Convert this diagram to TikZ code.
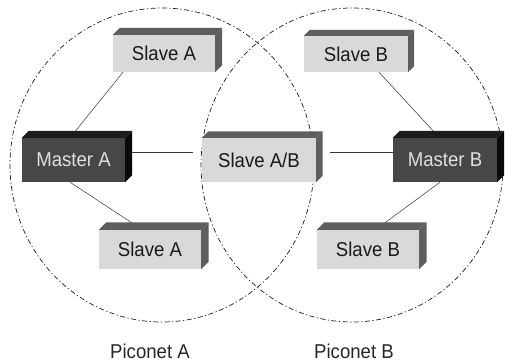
\documentclass[tikz,border=0pt]{standalone}
\usepackage{fontspec}
\newfontfamily\labfont{Liberation Sans}[FakeStretch=0.93]
\usetikzlibrary{backgrounds}
\definecolor{slavefront}{HTML}{D9D9D9}
\definecolor{slaveside}{HTML}{5E5E5E}
\definecolor{masterfront}{HTML}{474747}
\definecolor{mastertop}{HTML}{1C1C1C}
\definecolor{masterside}{HTML}{0A0A0A}
\definecolor{linkcol}{HTML}{333333}
\definecolor{ringcol}{HTML}{1A1A1A}
\tikzset{
  slavebox/.style={fill=slavefront, text=black!90, inner sep=0pt, font=\labfont\fontsize{20}{23}\selectfont},
  masterbox/.style={fill=masterfront, text=white!88!black, inner sep=0pt, font=\labfont\fontsize{20}{23}\selectfont},
  link/.style={draw=linkcol, line width=0.5pt},
  ring/.style={draw=ringcol, line width=0.7pt, dash pattern=on 5pt off 2.5pt on 1.2pt off 2.5pt},
  caption/.style={font=\labfont\fontsize{20}{23}\selectfont, text=black!85, anchor=base, inner sep=0pt}
}
\newcommand{\boxfaces}[4]{% name, top colour, side colour, depth
  \fill[#2] (#1.north west) -- ++(#4,-#4) -- ([shift={(#4,-#4)}]#1.north east) -- (#1.north east) -- cycle;
  \fill[#3] (#1.north east) -- ++(#4,-#4) -- ([shift={(#4,-#4)}]#1.south east) -- (#1.south east) -- cycle;
}
\begin{document}
\begin{tikzpicture}[x=1pt,y=-1pt]
\useasboundingbox (0,0) rectangle (505,363);
% boxes (front faces)
\node[slavebox, minimum width=102pt, minimum height=37pt] (sa1) at (164,53.5) {Slave A};
\node[slavebox, minimum width=104pt, minimum height=36pt] (sb1) at (356,54) {Slave B};
\node[masterbox, minimum width=103pt, minimum height=44pt] (ma) at (73.5,160) {Master A};
\node[slavebox, minimum width=114pt, minimum height=44pt] (sab) at (259,160) {Slave A/B};
\node[masterbox, minimum width=104pt, minimum height=44pt] (mb) at (445,160) {Master B};
\node[slavebox, minimum width=102pt, minimum height=39pt] (sa2) at (150,249.5) {Slave A};
\node[slavebox, minimum width=102pt, minimum height=39pt] (sb2) at (368,249.5) {Slave B};
% 3D faces
\boxfaces{sa1}{slaveside}{slaveside}{7}
\boxfaces{sb1}{slaveside}{slaveside}{6}
\boxfaces{ma}{mastertop}{masterside}{7}
\boxfaces{sab}{slaveside}{slaveside}{6.5}
\boxfaces{mb}{mastertop}{masterside}{7}
\boxfaces{sa2}{slaveside}{slaveside}{7.5}
\boxfaces{sb2}{slaveside}{slaveside}{7.5}
% captions
\node[caption] (pa) at (150,358) {Piconet A};
\node[caption] (pb) at (354,358) {Piconet B};
\begin{scope}[on background layer]
  \draw[ring] (162,165) ellipse [x radius=152, y radius=157];
  \draw[ring] (352,165) ellipse [x radius=151, y radius=157];
  \draw[link] ([xshift=-41pt]sa1.south) -- ([xshift=-3.5pt]ma.north);
  \draw[link] ([xshift=-3.5pt]ma.south) -- ([xshift=-7.5pt]sa2.north);
  \draw[link] ([xshift=7pt,yshift=8pt]ma.east) -- ([xshift=-9pt,yshift=8pt]sab.west);
  \draw[link] ([xshift=14pt,yshift=8pt]sab.east) -- ([yshift=8pt]mb.west);
  \draw[link] ([xshift=23pt]sb1.south) -- ([xshift=-5.5pt]mb.north);
  \draw[link] ([xshift=-5pt]mb.south) -- ([xshift=7.5pt]sb2.north);
\end{scope}
\end{tikzpicture}
\end{document}
